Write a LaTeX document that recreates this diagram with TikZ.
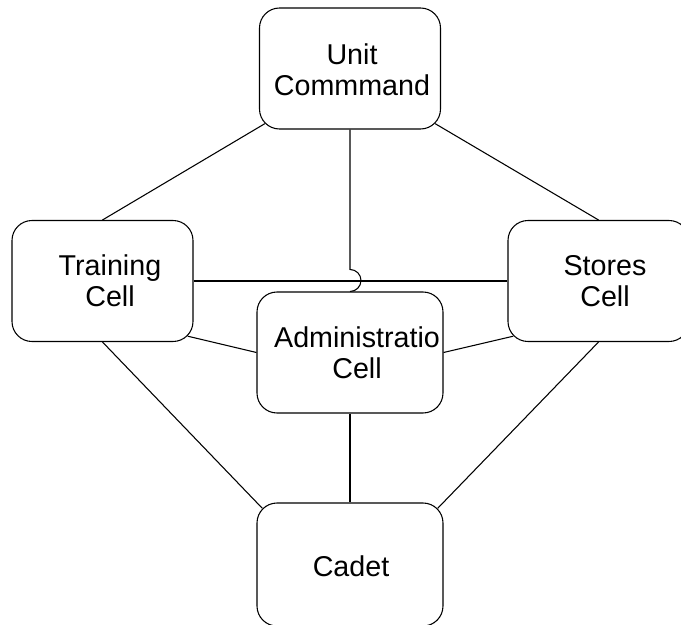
\documentclass[tikz,border=0pt]{standalone}
\usepackage{fontspec}
\setmainfont{Liberation Sans}
\usetikzlibrary{calc}

\tikzset{
  unitbox/.style={draw=black, line width=0.8pt, rounded corners=15pt,
    minimum width=135.75pt, minimum height=90.75pt, inner sep=0pt},
  widebox/.style={unitbox, minimum width=139.5pt},
  boxtext/.style={align=center, inner sep=0pt,
    font=\fontsize{21.5}{23.5}\selectfont},
  link/.style={draw=black, line width=0.8pt}
}

\begin{document}
\begin{tikzpicture}[x=0.75pt, y=-0.75pt]
  \clip (0,0) rectangle (681,624);
  \fill[white] (0,0) rectangle (681,624);

  % boxes
  \node[unitbox] (unit)   at (350,68.5)  {};
  \node[unitbox] (train)  at (102.5,281) {};
  \node[unitbox] (stores) at (598.5,281) {};
  \node[widebox] (admin)  at (350,352.5) {};
  \node[widebox, minimum height=92.25pt] (cadet) at (350,564.5) {};

  % labels
  \node[boxtext] (unitT)   at (352,69.5) {Unit\\Commmand};
  \node[boxtext] (trainT)  at (110,281)  {Training\\Cell};
  \node[boxtext] (storesT) at (605,281)  {Stores\\Cell};
  \node[boxtext] (adminT)  at (357,353)  {Administratio\\Cell};
  \node[boxtext] (cadetT)  at (351,566)  {Cadet};

  % points halfway round the rounded corners
  \coordinate (unitSW)   at ($(unit.south west)+(5.86,-5.86)$);
  \coordinate (unitSE)   at ($(unit.south east)+(-5.86,-5.86)$);
  \coordinate (trainSE)  at ($(train.south east)+(-5.86,-5.86)$);
  \coordinate (storesSW) at ($(stores.south west)+(5.86,-5.86)$);
  \coordinate (cadetNW)  at ($(cadet.north west)+(5.86,5.86)$);
  \coordinate (cadetNE)  at ($(cadet.north east)+(-5.86,5.86)$);
  \coordinate (jumpTop)  at ($(admin.north)+(0,-22)$);

  % connectors
  \draw[link] (unitSW) -- (train.north);
  \draw[link] (unitSE) -- (stores.north);
  \draw[link] (train.east) -- (stores.west);
  \draw[link] (unit.south) -- (jumpTop)
      arc[start angle=-90, end angle=90, radius=11] -- (admin.north);
  \draw[link] (trainSE) -- (admin.west);
  \draw[link] (admin.east) -- (storesSW);
  \draw[link] (train.south) -- (cadetNW);
  \draw[link] (stores.south) -- (cadetNE);
  \draw[link] (admin.south) -- (cadet.north);
\end{tikzpicture}
\end{document}
